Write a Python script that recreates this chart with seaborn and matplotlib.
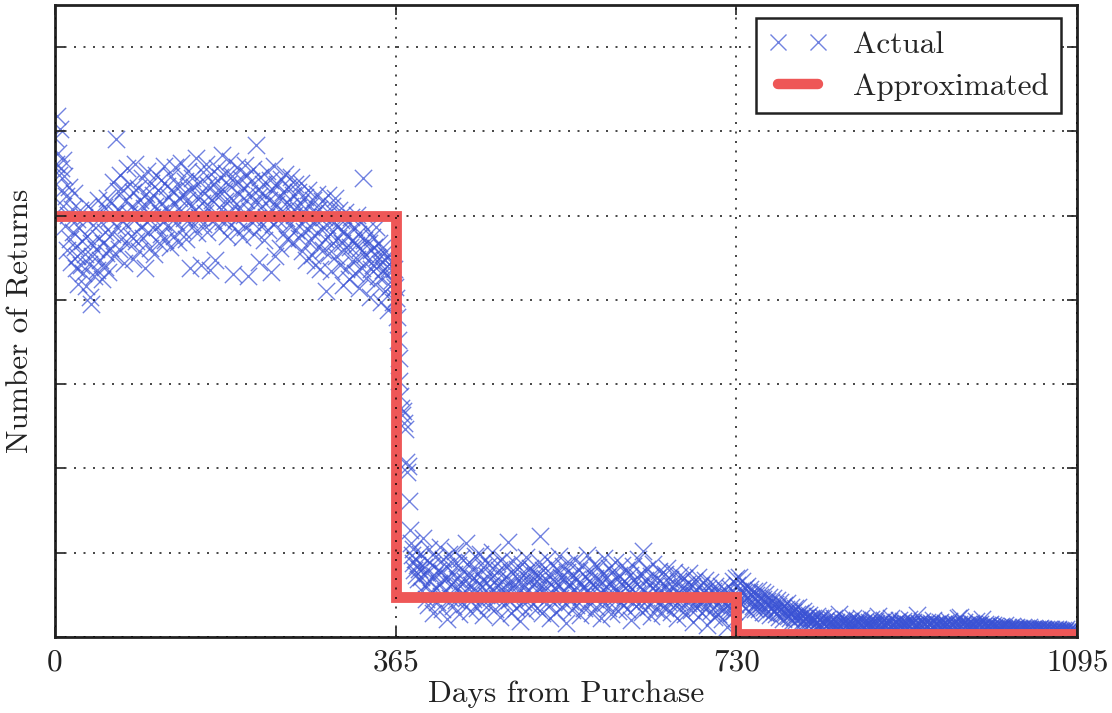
import numpy as np
import pandas as pd
import matplotlib
matplotlib.use("Agg")
import matplotlib.pyplot as plt
from matplotlib.lines import Line2D
import seaborn as sns

# ---------------- data (grid step = 100) ----------------
returns_year1 = [
    592, 561, 618, 574, 548, 603, 556, 531, 566, 512, 547, 488, 523, 459, 501, 534, 472, 445, 508, 481,
    527, 463, 438, 496, 452, 419, 485, 507, 441, 470, 432, 498, 455, 417, 476, 512, 443, 404, 467, 395,
    452, 489, 428, 503, 461, 436, 518, 474, 447, 492, 425, 468, 510, 439, 481, 456, 521, 433, 497, 462,
    515, 478, 540, 452, 503, 591, 486, 529, 461, 507, 548, 472, 495, 531, 444, 517, 489, 556, 468, 502,
    537, 476, 512, 449, 528, 495, 561, 470, 506, 533, 458, 519, 487, 545, 474, 509, 438, 526, 492, 553,
    481, 517, 462, 539, 498, 524, 455, 511, 548, 486, 530, 467, 503, 542, 478, 515, 493, 559, 471, 508,
    535, 489, 522, 463, 547, 501, 529, 476, 558, 514, 492, 538, 469, 521, 505, 563, 483, 526, 497, 541,
    472, 518, 553, 496, 530, 438, 512, 545, 488, 534, 507, 569, 479, 523, 498, 540, 442, 515, 552, 490,
    527, 503, 561, 481, 536, 512, 436, 549, 519, 495, 538, 447, 524, 557, 499, 531, 485, 546, 508, 572,
    494, 529, 517, 551, 476, 538, 503, 565, 489, 521, 547, 431, 512, 539, 496, 558, 482, 526, 509, 544,
    475, 533, 501, 560, 487, 519, 548, 428, 527, 506, 541, 492, 555, 478, 516, 584, 497, 530, 445, 523,
    546, 488, 512, 537, 471, 525, 499, 553, 483, 518, 542, 433, 507, 531, 490, 559, 452, 514, 538, 495,
    521, 462, 543, 505, 528, 479, 550, 497, 516, 472, 534, 489, 511, 546, 468, 524, 501, 537, 483, 509,
    528, 474, 515, 491, 539, 458, 506, 482, 522, 447, 498, 531, 469, 512, 486, 453, 519, 477, 503, 441,
    495, 526, 463, 508, 437, 484, 517, 459, 498, 472, 411, 489, 525, 456, 503, 478, 434, 511, 467, 492,
    521, 452, 486, 473, 507, 441, 495, 468, 418, 482, 459, 504, 437, 476, 492, 425, 463, 498, 446, 471,
    487, 432, 465, 501, 449, 478, 414, 462, 493, 438, 545, 471, 455, 426, 484, 447, 467, 403, 459, 437,
    475, 442, 463, 419, 486, 451, 428, 468, 443, 397, 462, 435, 456, 411, 447, 429, 452, 388, 438, 416,
    445, 424, 398, 437, 415, 402,
]

returns_transition = [
    380, 352, 331, 304, 286, 272, 263, 268, 254, 247, 208, 196, 203, 161, 127, 112, 97, 104, 88, 79,
    92, 74, 85, 69, 81,
]

returns_year2 = [
    98, 71, 54, 117, 83, 62, 45, 91, 76, 38, 104, 67, 52, 86, 29, 73, 95, 58, 41, 80,
    64, 107, 49, 77, 33, 92, 68, 55, 84, 21, 71, 99, 46, 63, 88, 37, 75, 58, 102, 44,
    69, 85, 27, 61, 94, 52, 78, 39, 66, 111, 48, 73, 57, 89, 31, 62, 81, 45, 70, 96,
    53, 35, 76, 64, 98, 42, 59, 83, 26, 67, 91, 50, 72, 38, 86, 61, 47, 101, 55, 74,
    33, 68, 88, 46, 62, 79, 24, 57, 93, 51, 70, 40, 84, 60, 113, 44, 66, 29, 77, 58,
    90, 48, 63, 35, 81, 55, 72, 19, 65, 87, 42, 59, 76, 31, 95, 53, 69, 45, 82, 37,
    61, 78, 50, 74, 66, 34, 73, 57, 89, 120, 62, 28, 80, 54, 70, 39, 92, 48, 64, 22,
    75, 52, 86, 41, 67, 58, 30, 79, 63, 96, 46, 71, 36, 84, 55, 68, 17, 77, 49, 60,
    88, 43, 65, 32, 74, 57, 91, 38, 69, 51, 80, 26, 63, 47, 85, 59, 34, 72, 54, 97,
    41, 66, 53, 78, 29, 62, 87, 45, 70, 36, 58, 83, 49, 67, 23, 75, 56, 94, 40, 61,
    71, 35, 82, 50, 64, 27, 77, 58, 46, 89, 55, 69, 31, 73, 52, 42, 86, 60, 38, 67,
    48, 79, 33, 62, 54, 74, 20, 57, 84, 44, 65, 37, 71, 51, 92, 40, 59, 76, 30, 102,
    55, 68, 43, 81, 36, 63, 49, 72, 25, 58, 87, 45, 61, 33, 70, 52, 78, 39, 56, 28,
    64, 47, 75, 35, 59, 82, 41, 53, 69, 30, 61, 46, 77, 38, 55, 22, 67, 50, 43, 73,
    36, 58, 49, 70, 27, 54, 63, 40, 76, 45, 32, 60, 51, 18, 66, 42, 57, 35, 71, 48,
    39, 62, 29, 53, 45, 68, 34, 50, 14, 58, 41, 65, 31, 47, 55, 24, 60, 38, 49, 27,
    52, 36, 44, 61, 21, 47, 33, 56, 40, 12, 49, 35, 58, 28, 43, 66, 31, 52, 39, 70,
]

returns_year3 = [
    62, 48, 71, 55, 39, 66, 52, 44, 58, 35, 61, 47, 53, 30, 57, 42, 49, 37, 54, 33,
    50, 41, 56, 33, 47, 39, 53, 30, 45, 36, 51, 28, 43, 38, 48, 26, 41, 34, 46, 31,
    39, 27, 44, 33, 37, 24, 42, 30, 35, 21, 38, 29, 33, 40, 25, 31, 22, 36, 28, 19,
    30, 24, 35, 20, 27, 36, 22, 29, 18, 25, 31, 19, 23, 27, 16, 24, 20, 26, 15, 22,
    19, 23, 14, 21, 17, 25, 13, 20, 16, 22, 12, 18, 24, 15, 19, 13, 21, 16, 11, 18,
    15, 20, 12, 17, 22, 14, 18, 11, 16, 27, 13, 19, 15, 10, 17, 21, 14, 12, 18, 15,
    13, 19, 16, 11, 22, 14, 17, 12, 20, 15, 18, 10, 16, 23, 13, 17, 11, 19, 14, 16,
    12, 18, 15, 21, 13, 16, 10, 19, 14, 17, 12, 25, 15, 11, 18, 13, 16, 20, 12, 14,
    17, 11, 15, 19, 13, 22, 14, 10, 16, 12, 18, 15, 11, 20, 13, 17, 12, 15, 19, 11,
    14, 17, 12, 16, 21, 13, 15, 10, 18, 14, 12, 16, 26, 13, 11, 17, 14, 12, 19, 15,
    11, 16, 13, 18, 12, 15, 10, 17, 14, 12, 20, 13, 15, 11, 16, 14, 12, 18, 13, 10,
    15, 12, 17, 14, 11, 16, 13, 19, 12, 14, 10, 15, 13, 17, 11, 14, 22, 12, 16, 24,
    13, 11, 15, 18, 12, 14, 10, 16, 13, 11, 17, 14, 12, 15, 10, 13, 19, 12, 14, 11,
    16, 12, 21, 13, 10, 15, 12, 14, 11, 13, 9, 15, 12, 10, 14, 11, 13, 9, 12, 10,
    11, 9, 13, 10, 12, 8, 11, 14, 9, 10, 12, 8, 11, 9, 13, 10, 8, 11, 9, 12,
    10, 8, 11, 9, 7, 10, 12, 8, 9, 11, 7, 10, 8, 12, 9, 7, 10, 8, 11, 9,
    8, 10, 7, 9, 11, 8, 6, 9, 10, 7, 8, 9, 6, 8, 10, 7, 9, 6, 8, 7,
    9, 6, 8, 7, 10, 6, 8, 7, 5, 8, 6, 7, 9, 6, 7, 5, 8, 6, 7, 5, 6, 8, 5, 6, 7,
]

step_days = [0, 365, 730, 1095]
step_levels = [500, 47, 3, 3]

x_ticks = [0, 365, 730, 1095]
x_tick_labels = ["0", "365", "730", "1095"]
y_grid = [0, 100, 200, 300, 400, 500, 600, 700]

actual = returns_year1 + returns_transition + returns_year2 + returns_year3
df = pd.DataFrame({"day": np.arange(len(actual)), "returns": actual})
steps = pd.DataFrame({"day": step_days, "level": step_levels})

# ---------------- style ----------------
sns.set_style("ticks")
plt.rcParams["font.family"] = ["cmr10", "DejaVu Serif"]
plt.rcParams["axes.formatter.use_mathtext"] = True
plt.rcParams["mathtext.fontset"] = "cm"

BLUE = "#3a52d4"
RED = "#ee5757"
INK = "#222222"
FS = 22.5

fig = plt.figure(figsize=(11.12, 7.13), dpi=100)
ax = fig.add_axes([0.0495, 0.1066, 0.9191, 0.8864])

sns.scatterplot(data=df, x="day", y="returns", marker="x", s=155,
                color=BLUE, alpha=0.72, linewidth=1.0, ax=ax,
                label="Actual", legend=False, zorder=1)
sns.lineplot(data=steps, x="day", y="level", drawstyle="steps-post",
             color=RED, linewidth=7.8, ax=ax, label="Approximated",
             legend=False, zorder=2, solid_joinstyle="miter")

ax.set_xlim(0, 1095)
ax.set_ylim(0, 750)
ax.set_xticks(x_ticks)
ax.set_xticklabels(x_tick_labels)
ax.set_yticks(y_grid)
ax.set_yticklabels([])

ax.set_axisbelow(False)
ax.grid(True, color="black", linestyle=(0, (1.2, 4.5)), linewidth=1.2, alpha=0.85)

for sp in ax.spines.values():
    sp.set_color(INK)
    sp.set_linewidth(2.0)
    sp.set_visible(True)
ax.tick_params(direction="in", length=7, width=1.2, top=True, right=True,
               labelsize=FS, colors=INK, pad=8)

ax.set_xlabel("Days from Purchase", fontsize=FS, color=INK, labelpad=3)
ax.set_ylabel("Number of Returns", fontsize=FS, color=INK)
ax.yaxis.set_label_coords(-0.02, 0.5)

h_actual = Line2D([], [], marker="x", linestyle="none", color=BLUE,
                  markersize=12, markeredgewidth=1.0, alpha=0.72)
h_approx = Line2D([], [], color=RED, linewidth=7.5)
leg = ax.legend([h_actual, h_approx], ["Actual", "Approximated"], loc="upper right",
                bbox_to_anchor=(0.9845, 0.979), numpoints=2, handlelength=1.9,
                fontsize=FS, frameon=True, fancybox=False, borderpad=0.4,
                labelspacing=0.45, handletextpad=0.8, borderaxespad=0)
leg.get_frame().set_edgecolor(INK)
leg.get_frame().set_linewidth(1.8)
leg.get_frame().set_alpha(1)

fig.savefig("out.png", dpi=100)
